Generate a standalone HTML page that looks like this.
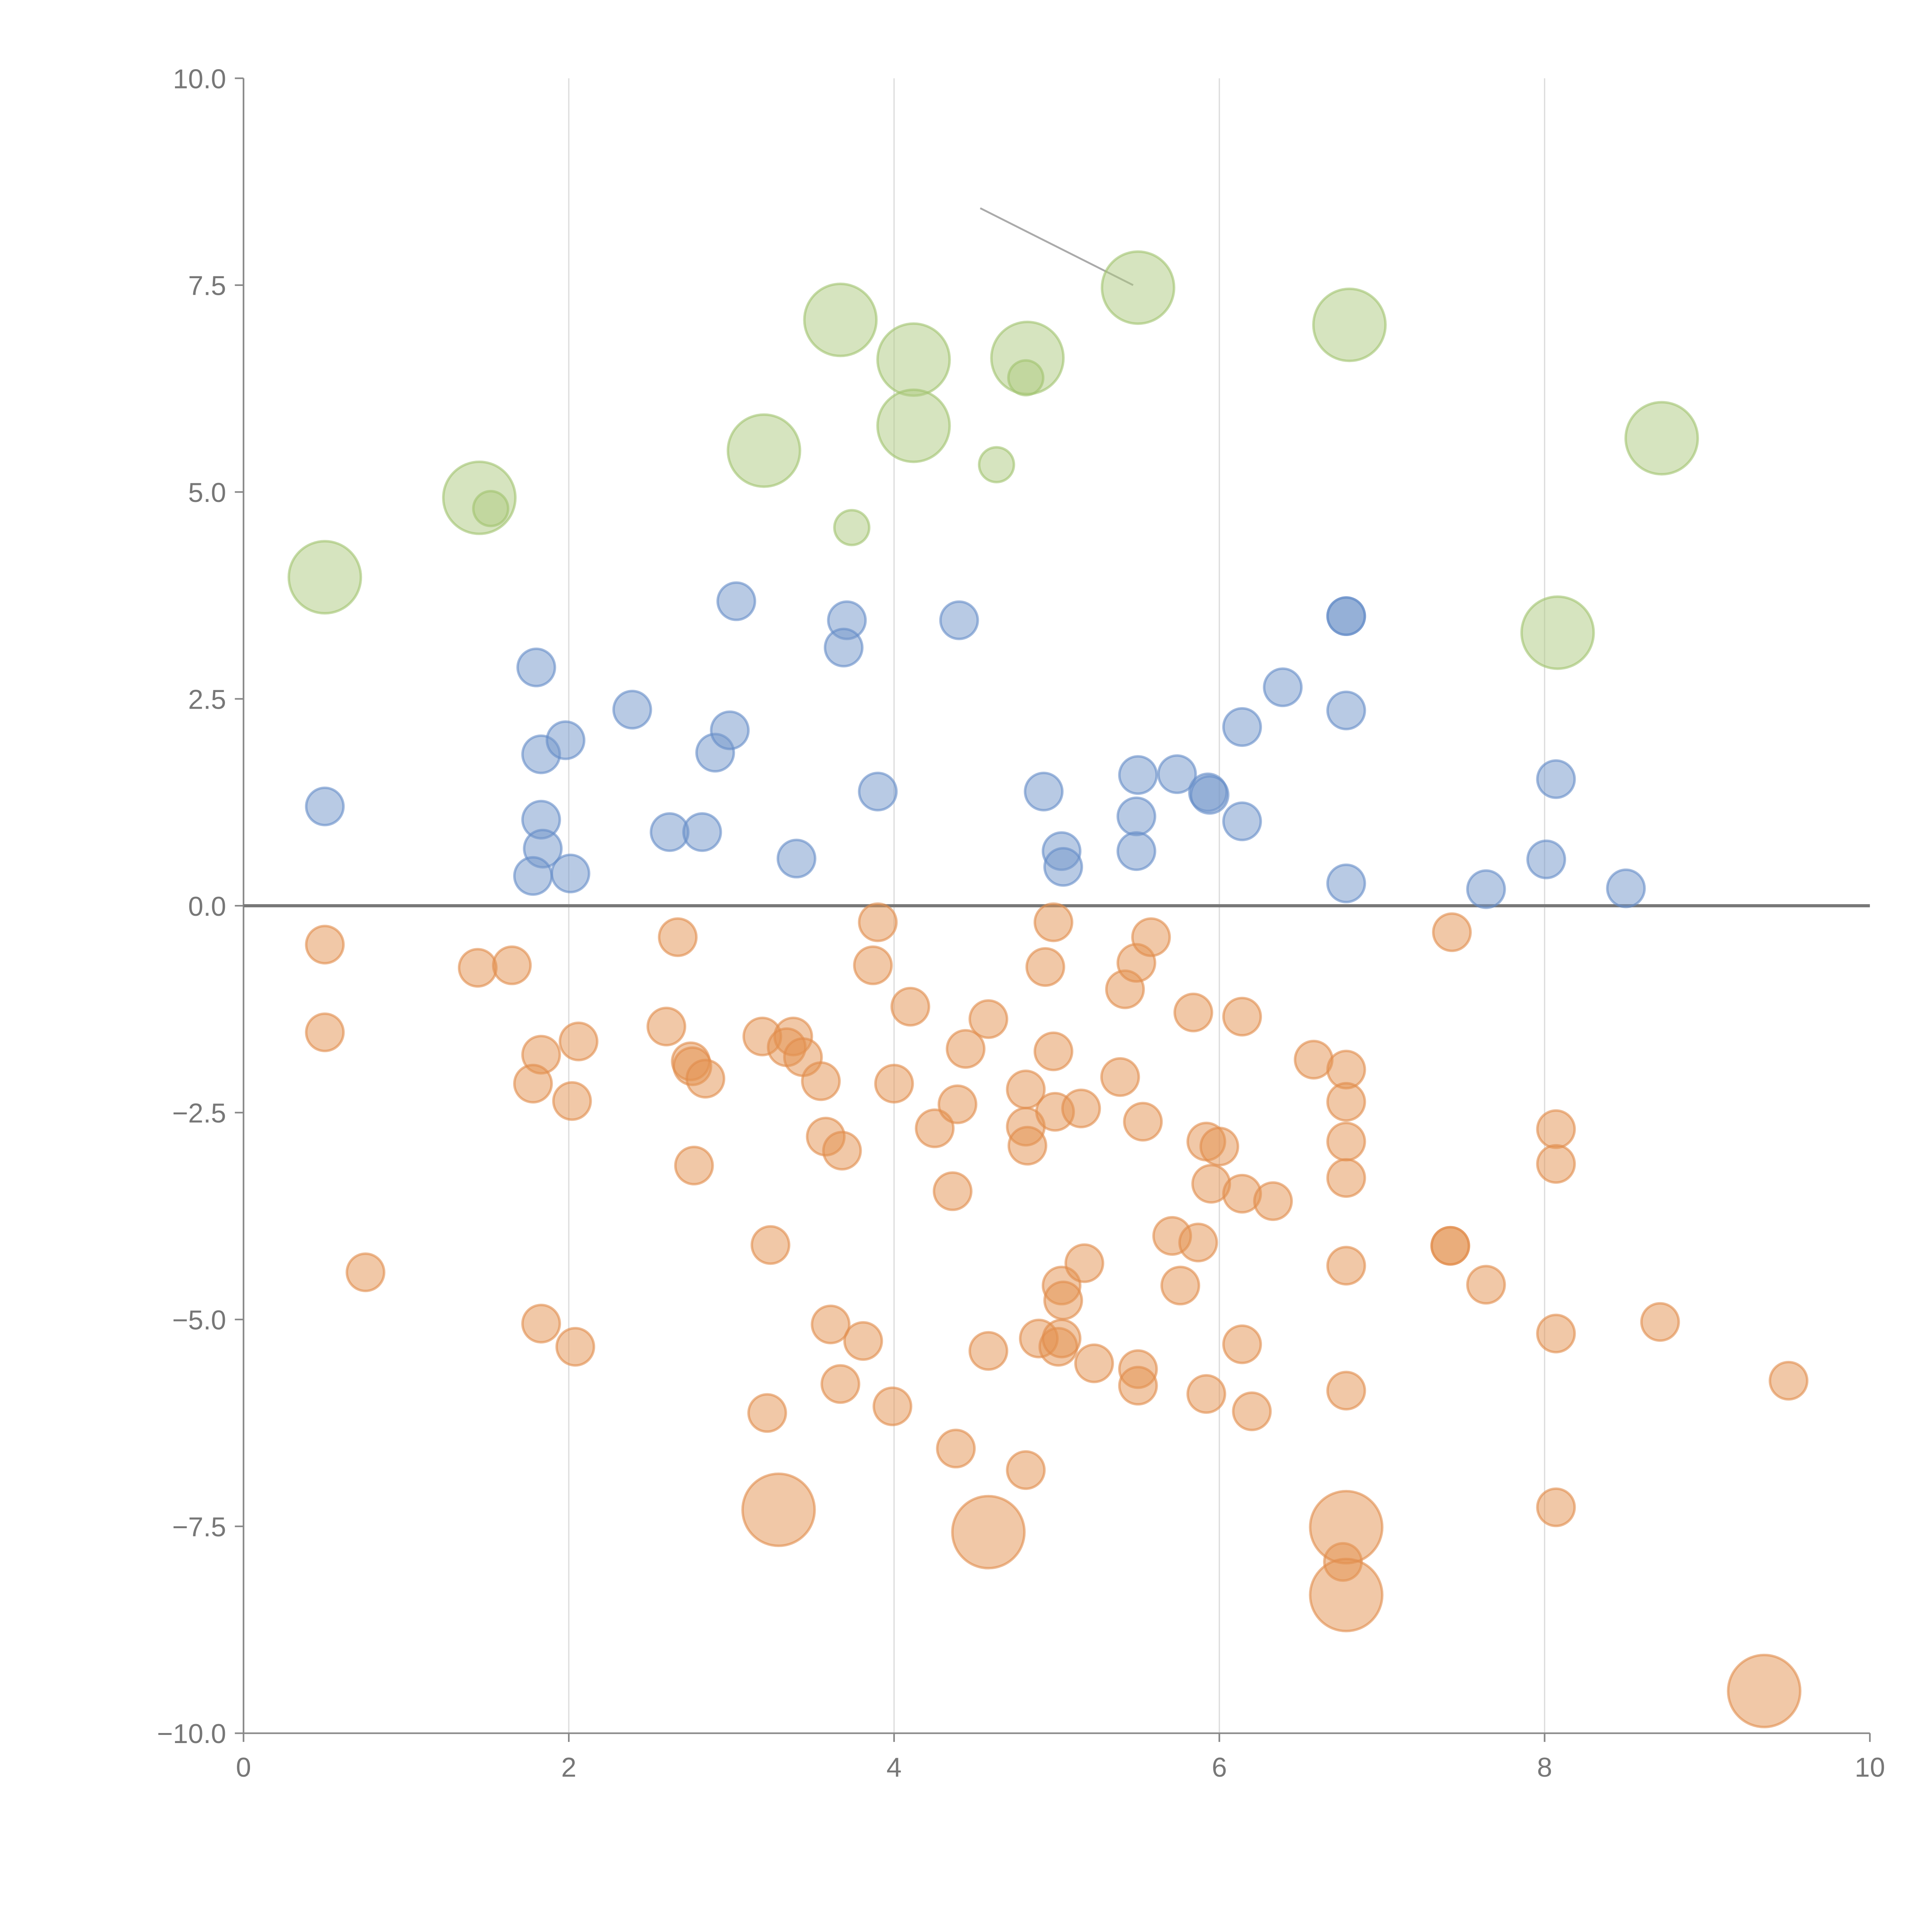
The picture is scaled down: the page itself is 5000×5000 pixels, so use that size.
<!DOCTYPE html>
<html><head><meta charset="utf-8"><style>
html,body{margin:0;padding:0;background:#fff;}
svg{display:block;}
text{font-family:"Liberation Sans",sans-serif;fill:#777;}
</style></head><body>
<svg id="chart" width="5000" height="5000" viewBox="0 0 1555 1555" xmlns="http://www.w3.org/2000/svg">
<g id="grid"></g>
<g id="axes"></g>
<g id="marks"></g>
</svg>
<script>
const xTicks=[0,2,4,6,8,10];
const yTicks=[10,7.5,5,2.5,0,-2.5,-5,-7.5,-10];
const yTickLabels=["10.0","7.5","5.0","2.5","0.0","\u22122.5","\u22125.0","\u22127.5","\u221210.0"];
const greenBigX=[0.5,1.45,3.2,3.67,4.12,4.12,4.82,5.5,6.8,8.08,8.72];
const greenBigY=[3.97,4.93,5.5,7.08,6.6,5.8,6.62,7.47,7.02,3.3,5.65];
const greenSmallX=[1.52,3.74,4.63,4.81];
const greenSmallY=[4.8,4.57,5.33,6.38];
const blueX=[0.5,1.8,1.83,1.98,1.83,1.84,1.78,2.01,2.39,2.62,2.82,2.9,2.99,3.03,3.4,3.71,3.69,3.9,4.4,4.92,5.03,5.04,5.5,5.49,5.49,5.74,5.93,5.94,6.14,6.14,6.39,6.78,6.78,6.78,6.78,7.64,8.01,8.07,8.5];
const blueY=[1.2,2.88,1.83,2.0,1.04,0.69,0.36,0.39,2.37,0.89,0.89,1.85,2.12,3.68,0.57,3.45,3.12,1.38,3.45,1.38,0.66,0.47,1.58,1.08,0.66,1.59,1.37,1.34,2.16,1.02,2.64,3.5,3.5,2.36,0.27,0.2,0.56,1.53,0.21];
const orangeX=[0.5,0.5,1.44,1.65,0.75,1.83,1.78,2.06,2.02,1.83,2.04,2.67,2.6,2.75,2.76,2.84,2.77,3.19,3.38,3.34,3.44,3.55,3.58,3.68,3.24,3.61,3.81,3.67,3.22,3.9,3.87,4.1,4.0,4.25,4.39,4.44,4.58,4.36,3.99,4.38,4.58,4.81,4.81,4.81,4.82,4.98,4.93,4.98,4.99,5.15,4.89,5.01,5.03,5.03,5.04,5.17,5.23,5.39,5.42,5.49,5.58,5.53,5.5,5.5,5.84,5.92,6.0,5.95,5.71,5.87,5.76,5.92,6.14,6.14,6.33,6.14,6.2,6.58,6.78,6.78,6.78,6.78,6.78,6.78,6.76,7.43,7.42,7.42,7.64,8.07,8.07,8.07,8.07,8.71,9.5];
const orangeY=[-0.47,-1.53,-0.75,-0.72,-4.43,-1.8,-2.15,-1.64,-2.36,-5.05,-5.33,-0.38,-1.46,-1.88,-1.94,-2.09,-3.14,-1.58,-1.58,-1.71,-1.83,-2.12,-2.79,-2.96,-4.1,-5.06,-5.26,-5.78,-6.13,-0.2,-0.72,-1.22,-2.15,-2.69,-2.4,-1.73,-1.37,-3.45,-6.05,-6.56,-5.38,-6.82,-2.22,-2.67,-2.9,-0.2,-0.74,-1.76,-2.49,-2.45,-5.23,-5.33,-5.23,-4.59,-4.77,-4.32,-5.53,-2.07,-1.01,-0.69,-0.38,-2.61,-5.6,-5.8,-1.29,-2.85,-2.91,-3.36,-3.99,-4.07,-4.59,-5.9,-1.34,-3.48,-3.57,-5.3,-6.11,-1.86,-1.98,-2.37,-2.85,-3.29,-4.35,-5.86,-7.93,-0.32,-4.11,-4.11,-4.58,-2.7,-3.12,-5.17,-7.27,-5.03,-5.74];
const orangeBigX=[3.29,4.58,6.78,6.78,9.35];
const orangeBigY=[-7.3,-7.57,-7.51,-8.33,-9.49];

const NS="http://www.w3.org/2000/svg";
const X0=196,X1=1505,Y0=1395,Y1=63;
function sx(v){return X0+(v-0)/(10-0)*(X1-X0);}
function sy(v){return Y0-(v+10)/20*(Y0-Y1);}
function mk(tag,attrs,parent){const e=document.createElementNS(NS,tag);for(const k in attrs)e.setAttribute(k,attrs[k]);parent.appendChild(e);return e;}
const grid=document.getElementById('grid'),axes=document.getElementById('axes'),marks=document.getElementById('marks');
xTicks.forEach(t=>{if(t>0&&t<10){const l=mk('line',{x1:sx(t),x2:sx(t),y1:Y1,y2:Y0,stroke:'#dcdcdc','stroke-width':1},grid);

}});
let a=mk('line',{x1:X0,x2:X0,y1:Y1,y2:Y0,stroke:'#888','stroke-width':1.3},axes);


a=mk('line',{x1:X0,x2:X1,y1:Y0,y2:Y0,stroke:'#888','stroke-width':1.3},axes);


xTicks.forEach(t=>{mk('line',{x1:sx(t),x2:sx(t),y1:Y0,y2:Y0+7,stroke:'#888','stroke-width':1.3},axes);
const tx=mk('text',{x:sx(t),y:Y0+35,'text-anchor':'middle','font-size':22},axes);tx.textContent=t;

});
yTicks.forEach((t,i)=>{mk('line',{x1:X0-7,x2:X0,y1:sy(t),y2:sy(t),stroke:'#888','stroke-width':1.3},axes);
const tx=mk('text',{x:X0-14,y:sy(t)+8,'text-anchor':'end','font-size':22},axes);tx.textContent=yTickLabels[i];

});
a=mk('line',{x1:X0,x2:X1,y1:sy(0),y2:sy(0),stroke:'#777','stroke-width':2.5},axes);


a=mk('line',{x1:sx(4.53),y1:sy(8.43),x2:sx(5.47),y2:sy(7.5),stroke:'#aaa','stroke-width':1.5},axes);


function draw(xs,ys,r,fill,stroke,name){xs.forEach((x,i)=>{const c=mk('circle',{cx:sx(x),cy:sy(ys[i]),r:r,fill:fill,'fill-opacity':0.5,stroke:stroke,'stroke-opacity':0.6,'stroke-width':2},marks);

});}
draw(greenBigX,greenBigY,29,'rgb(173,201,127)','rgb(160,195,110)','green-bubble-large');
draw(greenSmallX,greenSmallY,14,'rgb(173,201,127)','rgb(160,195,110)','green-bubble-small');
draw(blueX,blueY,15,'rgb(114,149,201)','rgb(100,140,200)','blue-bubble');
draw(orangeX,orangeY,15,'rgb(227,145,79)','rgb(225,140,75)','orange-bubble');
draw(orangeBigX,orangeBigY,29,'rgb(227,145,79)','rgb(225,140,75)','orange-bubble-large');
</script>
</body></html>
